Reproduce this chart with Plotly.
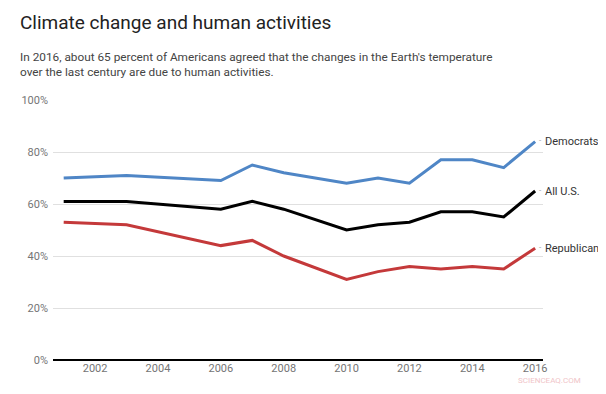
import plotly.graph_objects as go

years = [2001, 2003, 2006, 2007, 2008, 2010, 2011, 2012, 2013, 2014, 2015, 2016]
democrats = [70, 71, 69, 75, 72, 68, 70, 68, 77, 77, 74, 84]
all_us = [61, 61, 58, 61, 58, 50, 52, 53, 57, 57, 55, 65]
republicans = [53, 52, 44, 46, 40, 31, 34, 36, 35, 36, 35, 43]

series = [
    ("Democrats", democrats, "#4f86c6"),
    ("All U.S.", all_us, "#000000"),
    ("Republican", republicans, "#c4393a"),
]

x_ticks = [2002, 2004, 2006, 2008, 2010, 2012, 2014, 2016]
y_ticks = [0, 20, 40, 60, 80, 100]

# The page body has an 8px margin, so the figure is drawn starting at (8, 8).
OFF = 8
PL, PR, PT, PB = 53, 543, 100, 360  # plot area in page pixels
PW, PH = PR - PL, PB - PT
FIG_W, FIG_H = 606 - OFF, 394 - 2 * OFF


def px(x):
    return (x - PL) / PW


def py(y):
    return (PB - y) / PH


fig = go.Figure()
for name, vals, color in series:
    fig.add_trace(go.Scatter(x=years, y=vals, mode="lines", name=name,
                             line=dict(color=color, width=3), hoverinfo="x+y"))

annotations = []
for name, vals, color in series:
    annotations.append(dict(x=years[-1], y=vals[-1], xref="x", yref="y",
                            text=name, showarrow=False, xanchor="left",
                            xshift=8, yshift=0,
                            font=dict(family="Roboto", size=11, color="#333333")))
    annotations.append(dict(x=years[-1], y=vals[-1], xref="x", yref="y",
                            text="-", showarrow=False, xanchor="left",
                            xshift=2, yshift=1,
                            font=dict(family="Roboto", size=8, color="#999999")))

annotations.append(dict(xref="paper", yref="paper", x=px(18), y=py(23),
                        xanchor="left", yanchor="middle", showarrow=False,
                        text="Climate change and human activities",
                        font=dict(family="Roboto", size=19, color="#222222")))
annotations.append(dict(xref="paper", yref="paper", x=px(18), y=py(64.5),
                        xanchor="left", yanchor="middle", showarrow=False, align="left",
                        text="In 2016, about 65 percent of Americans agreed that the changes in the Earth's temperature<br>over the last century are due to human activities.",
                        font=dict(family="Roboto", size=11.8, color="#444444")))
annotations.append(dict(xref="paper", yref="paper", x=px(549), y=py(386),
                        xanchor="center", yanchor="bottom", showarrow=False,
                        borderpad=0,
                        text="SCIENCEAQ.COM",
                        font=dict(family="Roboto", size=8, color="#f0c4c8")))

fig.update_layout(
    width=FIG_W, height=FIG_H,
    margin=dict(l=PL - OFF, r=OFF + FIG_W - PR, t=PT - OFF, b=OFF + FIG_H - PB),
    paper_bgcolor="white", plot_bgcolor="white",
    showlegend=False,
    annotations=annotations,
    xaxis=dict(range=[2000.66, 2016.25], tickvals=x_ticks,
               ticktext=[str(t) for t in x_ticks], showgrid=False, zeroline=False,
               showline=False, ticks="", tickfont=dict(family="Roboto", size=11, color="#757575")),
    yaxis=dict(range=[0, 100], tickvals=y_ticks, ticktext=[f"{t}%" for t in y_ticks],
               showgrid=True, gridcolor="#e0e0e0", gridwidth=1, zeroline=True,
               zerolinecolor="#000000", zerolinewidth=2, showline=False, ticks="",
               ticklabelstandoff=4,
               tickfont=dict(family="Roboto", size=11, color="#757575")),
)

fig.write_html("out.html")
